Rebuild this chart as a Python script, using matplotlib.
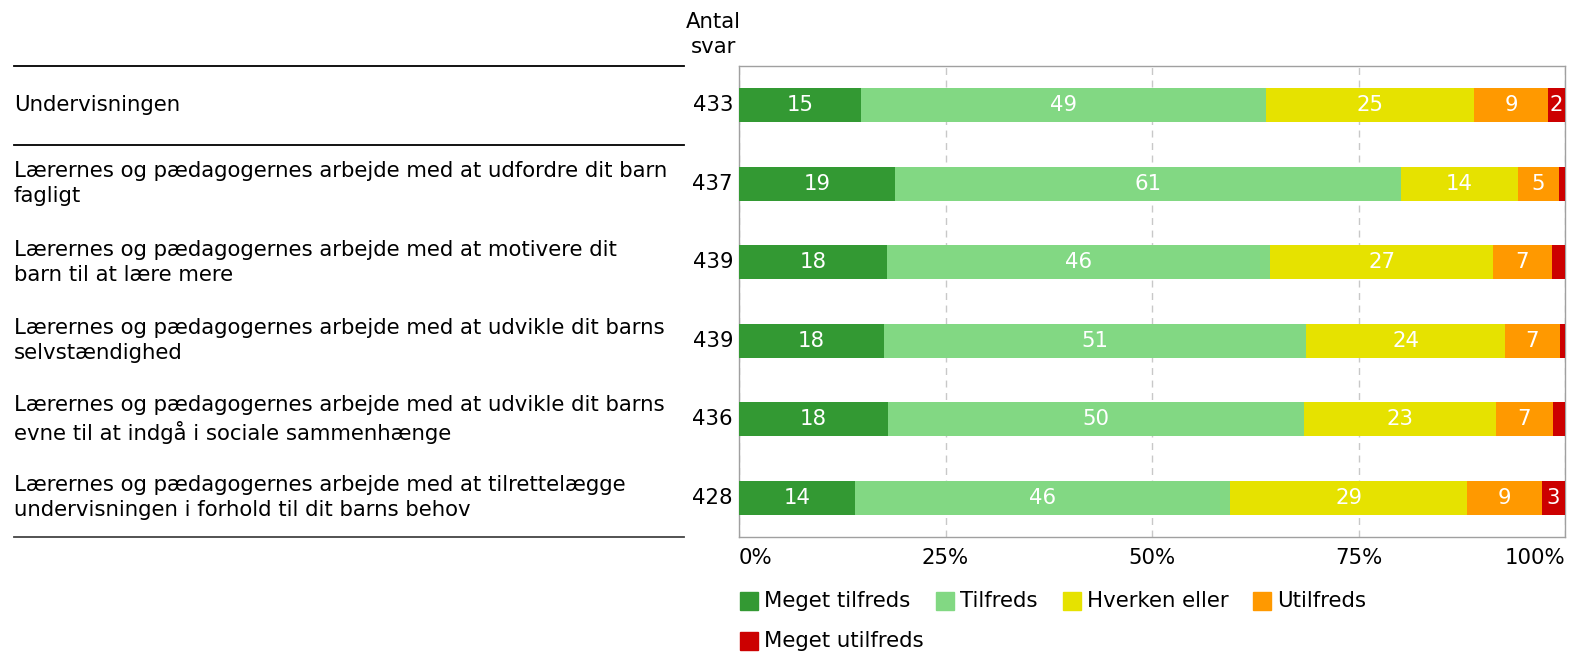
import numpy as np
import matplotlib
matplotlib.use("Agg")
import matplotlib.pyplot as plt
from matplotlib.lines import Line2D
from matplotlib.patches import Rectangle
import matplotlib.transforms as mtransforms

questions = [
    "Undervisningen",
    "Lærernes og pædagogernes arbejde med at udfordre dit barn\nfagligt",
    "Lærernes og pædagogernes arbejde med at motivere dit\nbarn til at lære mere",
    "Lærernes og pædagogernes arbejde med at udvikle dit barns\nselvstændighed",
    "Lærernes og pædagogernes arbejde med at udvikle dit barns\nevne til at indgå i sociale sammenhænge",
    "Lærernes og pædagogernes arbejde med at tilrettelægge\nundervisningen i forhold til dit barns behov",
]
antal_svar = [433, 437, 439, 439, 436, 428]

series_names = ["Meget tilfreds", "Tilfreds", "Hverken eller", "Utilfreds", "Meget utilfreds"]
meget_tilfreds = [14.8, 18.9, 17.9, 17.5, 18.0, 14.0]
tilfreds = [49.0, 61.3, 46.4, 51.2, 50.4, 45.5]
hverken_eller = [25.2, 14.1, 27.0, 24.0, 23.3, 28.6]
utilfreds = [8.9, 5.0, 7.1, 6.7, 6.8, 9.1]
meget_utilfreds = [2.1, 0.7, 1.6, 0.6, 1.5, 2.8]

colors = ["#339933", "#82d883", "#e6e200", "#ff9900", "#cc0000"]
series = [meget_tilfreds, tilfreds, hverken_eller, utilfreds, meget_utilfreds]

W, H = 1571, 657
fig = plt.figure(figsize=(W / 100, H / 100), dpi=100)
ax = fig.add_axes([739 / W, 1 - 537 / H, (1565 - 739) / W, (537 - 66) / H])

fs = 15.3
y = np.arange(len(questions))
left = np.zeros(len(questions))
for vals, col in zip(series, colors):
    vals = np.array(vals)
    ax.barh(y, vals, left=left, height=0.43, color=col, zorder=3)
    for yi, l, v in zip(y, left, vals):
        if v >= 2:
            ax.text(l + v / 2, yi, f"{v:.0f}", ha="center", va="center",
                    color="white", fontsize=fs, zorder=4)
    left += vals

ax.set_xlim(0, 100)
ax.set_ylim(len(questions) - 0.5, -0.5)
ax.set_yticks([])
ax.set_xticks([0, 25, 50, 75, 100])
ax.set_xticklabels(["0%", "25%", "50%", "75%", "100%"], fontsize=fs)
ticklabels = ax.get_xticklabels()
ticklabels[0].set_ha("left")
ticklabels[-1].set_ha("right")
ax.tick_params(axis="x", length=0, pad=8)
ax.grid(axis="x", color="#c8c8c8", linestyle=(0, (5, 4)), linewidth=1, zorder=0)
for s in ax.spines.values():
    s.set_color("#a0a0a0")
    s.set_linewidth(1)

# left-side labels and counts
tr = mtransforms.blended_transform_factory(fig.transFigure, ax.transData)
for yi, q, n in zip(y, questions, antal_svar):
    ax.text(14 / W, yi, q, transform=tr, ha="left", va="center",
            fontsize=fs, linespacing=1.32, clip_on=False)
    ax.text(733 / W, yi, str(n), transform=tr, ha="right", va="center",
            fontsize=fs, clip_on=False)
for yl, c in [(-0.5, "black"), (0.5, "black"), (len(questions) - 0.5, "#444444")]:
    ax.add_line(Line2D([14 / W, 684 / W], [yl, yl], transform=tr,
                       color=c, linewidth=1.3, clip_on=False))

fig.text(713 / W, 1 - 22 / H, "Antal", ha="center", va="center", fontsize=fs)
fig.text(713 / W, 1 - 47 / H, "svar", ha="center", va="center", fontsize=fs)

# legend
leg_pos = [(740, 601), (936, 601), (1063, 601), (1253, 601), (740, 641)]
for (lx, ly), name, col in zip(leg_pos, series_names, colors):
    fig.add_artist(Rectangle((lx / W, 1 - (ly + 9) / H), 18 / W, 18 / H,
                             transform=fig.transFigure, color=col))
    fig.text((lx + 24) / W, 1 - ly / H, name, ha="left", va="center", fontsize=fs)

fig.savefig("out.png", dpi=100)
